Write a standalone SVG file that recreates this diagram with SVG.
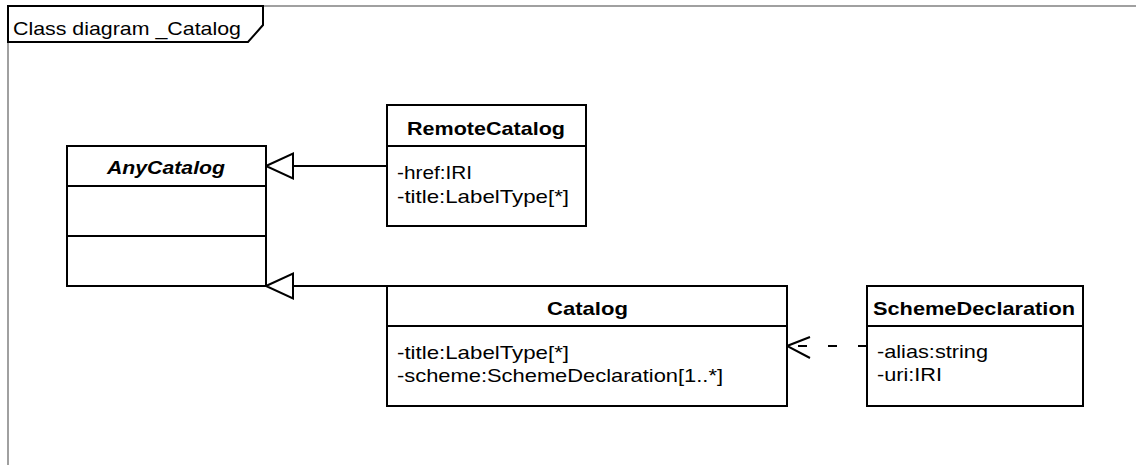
<svg xmlns="http://www.w3.org/2000/svg" width="1136" height="465" viewBox="0 0 1136 465">
<style>
.box{fill:#fff;stroke:#000;stroke-width:2}
.ln{stroke:#000;stroke-width:2;fill:none}
.t{font-family:"Liberation Sans",Arial,sans-serif;font-size:19px;fill:#000}
.h{font-family:"Liberation Sans",Arial,sans-serif;font-size:19px;font-weight:bold;fill:#000}
.hi{font-family:"Liberation Sans",Arial,sans-serif;font-size:19px;font-weight:bold;font-style:italic;fill:#000}
.frame{stroke:#a0a0a0;stroke-width:2;fill:none}
.tri{fill:#fff;stroke:#000;stroke-width:2;stroke-linejoin:miter}
</style>
<rect width="1136" height="465" fill="#fff"/>
<g id="frame">
<path class="frame" d="M263,6 H1136 M8,42 V465"/>
<path class="box" d="M8,6 H263 V25 L248,42 H8 Z"/>
<text class="t" x="13" y="35" font-size="22" textLength="228" lengthAdjust="spacingAndGlyphs">Class diagram _Catalog</text>
</g>
<g id="connectors">
<path class="ln" d="M293,166 H387"/>
<path class="tri" d="M266,166 L293,153.5 L293,178.5 Z"/>
<path class="ln" d="M293,286 H387"/>
<path class="tri" d="M266,286 L293,273.5 L293,298.5 Z"/>
<path class="ln" d="M867,346 H787" stroke-dasharray="9 21"/>
<path class="ln" d="M810,337 L787,346 L810,358" stroke-width="1.5"/>
</g>
<g id="AnyCatalog">
<rect class="box" x="67" y="146" width="199" height="140"/>
<path class="ln" d="M67,186 H266 M67,236 H266"/>
<text class="hi" x="107" y="174" textLength="118" lengthAdjust="spacingAndGlyphs">AnyCatalog</text>
</g>
<g id="RemoteCatalog">
<rect class="box" x="387" y="105" width="199" height="121"/>
<path class="ln" d="M387,146 H586"/>
<text class="h" x="407" y="135" textLength="158" lengthAdjust="spacingAndGlyphs">RemoteCatalog</text>
<text class="t" x="397" y="179" textLength="75" lengthAdjust="spacingAndGlyphs">-href:IRI</text>
<text class="t" x="397" y="203" textLength="172" lengthAdjust="spacingAndGlyphs">-title:LabelType[*]</text>
</g>
<g id="Catalog">
<rect class="box" x="387" y="286" width="400" height="120"/>
<path class="ln" d="M387,326 H787"/>
<text class="h" x="547" y="315" textLength="81" lengthAdjust="spacingAndGlyphs">Catalog</text>
<text class="t" x="397" y="359" textLength="172" lengthAdjust="spacingAndGlyphs">-title:LabelType[*]</text>
<text class="t" x="397" y="382" textLength="326" lengthAdjust="spacingAndGlyphs">-scheme:SchemeDeclaration[1..*]</text>
</g>
<g id="SchemeDeclaration">
<rect class="box" x="867" y="286" width="216" height="120"/>
<path class="ln" d="M867,326 H1083"/>
<text class="h" x="873" y="315" textLength="202" lengthAdjust="spacingAndGlyphs">SchemeDeclaration</text>
<text class="t" x="877" y="358" textLength="111" lengthAdjust="spacingAndGlyphs">-alias:string</text>
<text class="t" x="877" y="381" textLength="65" lengthAdjust="spacingAndGlyphs">-uri:IRI</text>
</g>
</svg>
